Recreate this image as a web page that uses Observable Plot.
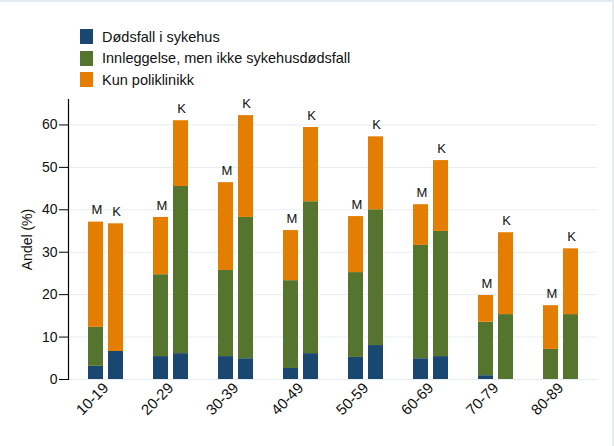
<!DOCTYPE html>
<html>
<head>
<meta charset="utf-8">
<script src="https://cdn.jsdelivr.net/npm/d3@7"></script>
<script src="https://cdn.jsdelivr.net/npm/@observablehq/plot@0.6"></script>
<style>
  html, body { margin: 0; padding: 0; background: #fff; }
  body { width: 614px; height: 446px; position: relative; overflow: hidden; font-family: "Liberation Sans", Arial, sans-serif; }
  #legend { height: 92px; box-sizing: border-box; padding: 26px 0 0 80px; }
  .row { display: flex; align-items: center; height: 21.5px; font-size: 14.5px; color: #111; }
  .sw { width: 13px; height: 15px; margin-right: 9px; flex: none; }
  #frame { position: absolute; left: 0; top: 0; width: 614px; height: 446px; box-sizing: border-box;
           border-top: 2px solid #e6edf0; border-right: 2px solid #e6edf0; pointer-events: none; }
  svg { display: block; }
</style>
</head>
<body>
<div id="legend"></div>
<div id="chart"></div>
<div id="frame"></div>
<script>
const ages = ["10-19", "20-29", "30-39", "40-49", "50-59", "60-69", "70-79", "80-89"];
const categories = ["Dødsfall i sykehus", "Innleggelse, men ikke sykehusdødsfall", "Kun poliklinikk"];
const colors = ["#1a476f", "#55752f", "#e37e00"];
const sexes = ["M", "K"];

// Menn (M)
const mDod = [3.1, 5.4, 5.4, 2.6, 5.2, 4.9, 0.9, 0];
const mInn = [9.2, 19.3, 20.3, 20.7, 20.0, 26.7, 12.6, 7.1];
const mPol = [24.8, 13.5, 20.7, 11.8, 13.2, 9.6, 6.3, 10.3];
// Kvinner (K)
const kDod = [6.6, 6.1, 4.9, 6.1, 8.0, 5.4, 0, 0];
const kInn = [0, 39.4, 33.3, 35.8, 32.0, 29.5, 15.3, 15.3];
const kPol = [30.1, 15.5, 24.0, 17.5, 17.2, 16.7, 19.3, 15.5];

const yTicks = [0, 10, 20, 30, 40, 50, 60];

const series = {M: [mDod, mInn, mPol], K: [kDod, kInn, kPol]};
const rows = [];
for (const s of sexes) {
  categories.forEach((c, ci) => {
    ages.forEach((a, ai) => rows.push({sex: s, age: a, cat: c, value: series[s][ci][ai]}));
  });
}
const totals = [];
for (const s of sexes) {
  ages.forEach((a, ai) => totals.push({sex: s, age: a, total: d3.sum(series[s], arr => arr[ai])}));
}

// legend
const legend = document.getElementById("legend");
categories.forEach((c, i) => {
  const r = document.createElement("div");
  r.className = "row";
  r.innerHTML = `<span class="sw" style="background:${colors[i]}"></span><span>${c}</span>`;
  legend.appendChild(r);
});

const barOpts = (s) => ({
  x: "age", y: "value", fill: "cat", order: null,
  insetLeft: s === "K" ? 20 : 0, insetRight: s === "M" ? 20 : 0
});

const plot = Plot.plot({
  width: 614,
  height: 354,
  marginLeft: 68,
  marginRight: 17,
  marginTop: 7,
  marginBottom: 67,
  style: {fontFamily: "Liberation Sans, Arial, sans-serif", fontSize: "14px", color: "#111", background: "#fff"},
  x: {domain: ages, paddingInner: 0.465, paddingOuter: 0.277, label: null},
  y: {domain: [0, 66], label: null},
  color: {domain: categories, range: colors},
  marks: [
    Plot.gridY(yTicks, {stroke: "#e6edf0", strokeOpacity: 1}),
    Plot.barY(rows.filter(d => d.sex === "M"), Plot.stackY(barOpts("M"))),
    Plot.barY(rows.filter(d => d.sex === "K"), Plot.stackY(barOpts("K"))),
    Plot.text(totals, {x: "age", y: "total", text: "sex", fontSize: 13, fill: "#111",
      dy: -12, filter: d => d.sex === "M", dx: -9}),
    Plot.text(totals, {x: "age", y: "total", text: "sex", fontSize: 13, fill: "#111",
      dy: -12, filter: d => d.sex === "K", dx: 10.5}),
    Plot.frame({anchor: "left", stroke: "#000", strokeWidth: 1.2}),
    Plot.axisY(yTicks, {tickSize: 9, tickPadding: 2, fontSize: 14, label: "Andel (%)", labelAnchor: "center",
      labelArrow: "none", labelOffset: 46, stroke: "#000"}),
    Plot.axisX({tickSize: 0, tickPadding: 6, tickRotate: -45, fontSize: 15, label: null})
  ]
});
document.getElementById("chart").appendChild(plot);
</script>
</body>
</html>
